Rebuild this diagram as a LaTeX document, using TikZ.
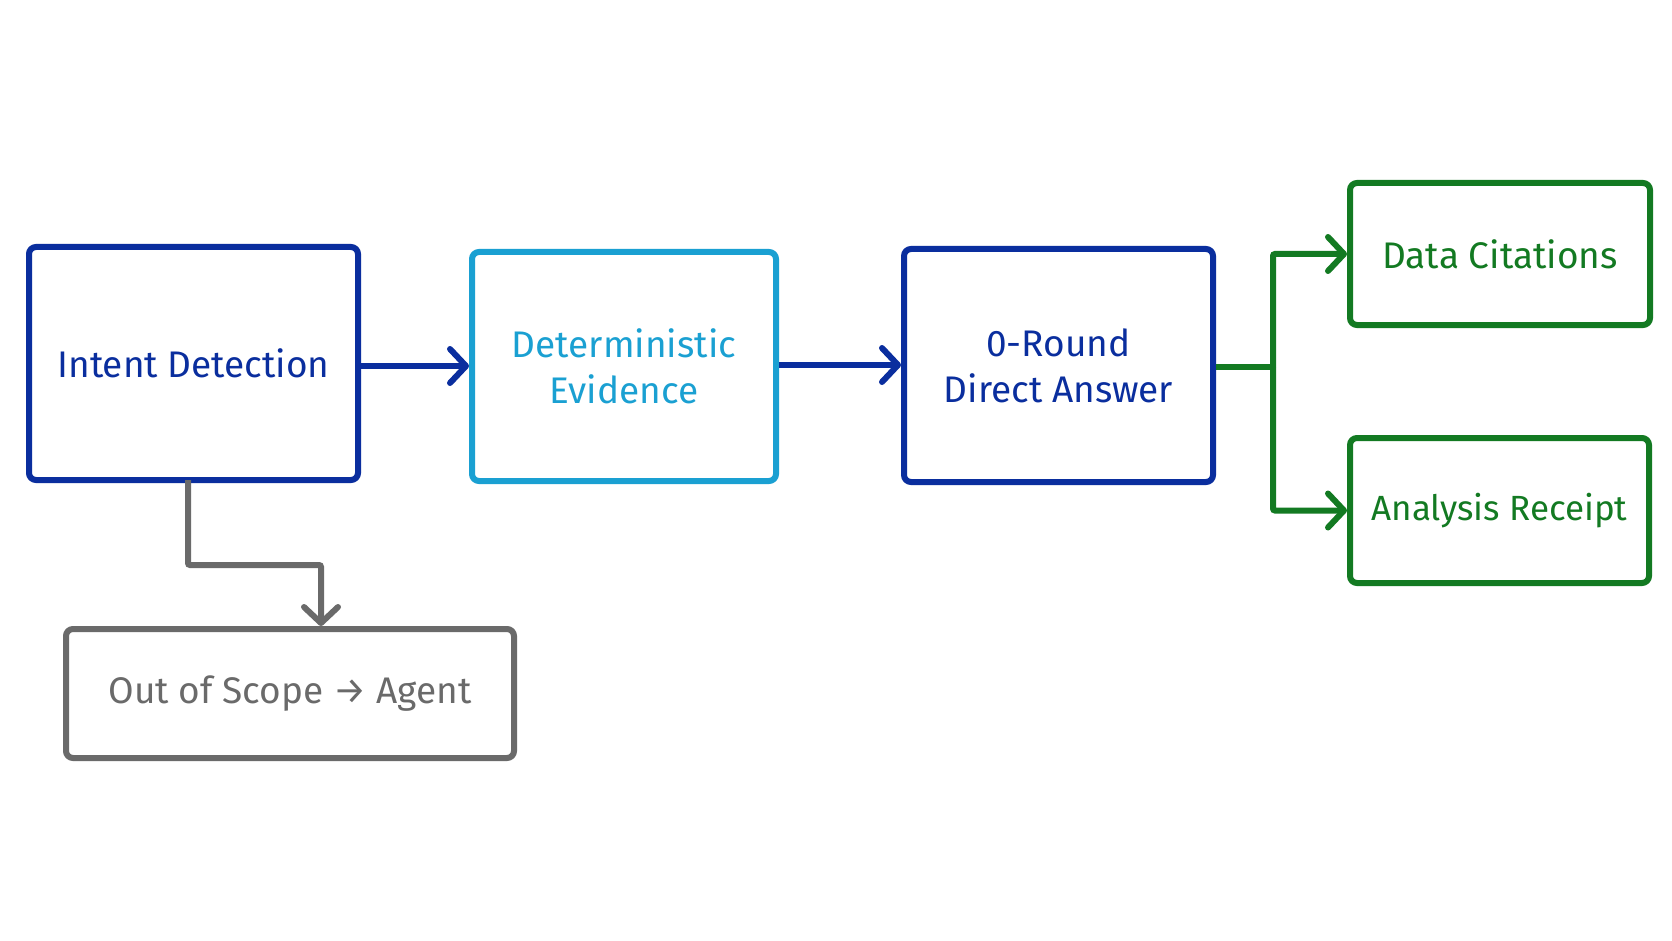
\documentclass[tikz,border=0pt]{standalone}
\usepackage{fontspec}
\setmainfont{Fira Sans}
\usetikzlibrary{arrows.meta}
\definecolor{dblue}{HTML}{0A2E9E}
\definecolor{lblue}{HTML}{1AA0D2}
\definecolor{dgreen}{HTML}{137A22}
\definecolor{gr}{HTML}{6A6A6A}
\begin{document}
\begin{tikzpicture}[x=1pt,y=-1pt,
  box/.style={draw,line width=6pt,rounded corners=7pt,align=center,inner sep=0pt,font=\fontsize{37}{46}\selectfont},
  arr/.style={line width=6pt,-{Straight Barb[length=16pt,width=34pt,line width=6pt,round]}}]
\fill[white] (0,0) rectangle (1672,941);
\useasboundingbox (0,0) rectangle (1672,941);
\node[box,dblue,minimum width=329,minimum height=233] (id) at (193.5,363.5) {Intent Detection};
\node[box,lblue,text=lblue,minimum width=304,minimum height=229] (de) at (624,366.5) {Deterministic\\Evidence};
\node[box,dblue,minimum width=309,minimum height=233] (zr) at (1058.5,365.5) {0-Round\\Direct Answer};
\node[box,dgreen,minimum width=300,minimum height=142] (dc) at (1500,254) {Data Citations};
\node[box,dgreen,minimum width=299,minimum height=145,font=\fontsize{35}{44}\selectfont] (ar) at (1499.5,510.5) {Analysis Receipt};
\node[box,gr,minimum width=448,minimum height=129] (os) at (290,693.5) {Out of Scope → Agent};
\draw[arr,dblue] (id.east|-0,366) -- (de.west|-0,366);
\draw[arr,dblue] (de.east|-0,365) -- (zr.west|-0,365);
\coordinate (j) at (1273,367);
\draw[line width=6pt,dgreen] (zr.east|-j) -- (j);
\draw[arr,dgreen,rounded corners=2pt] (j) |- (dc.west);
\draw[arr,dgreen,rounded corners=2pt] (j) |- (ar.west);
\draw[arr,gr,rounded corners=2pt] (188,480) |- (321,565) -- (os.north-|321,0);
\end{tikzpicture}
\end{document}
